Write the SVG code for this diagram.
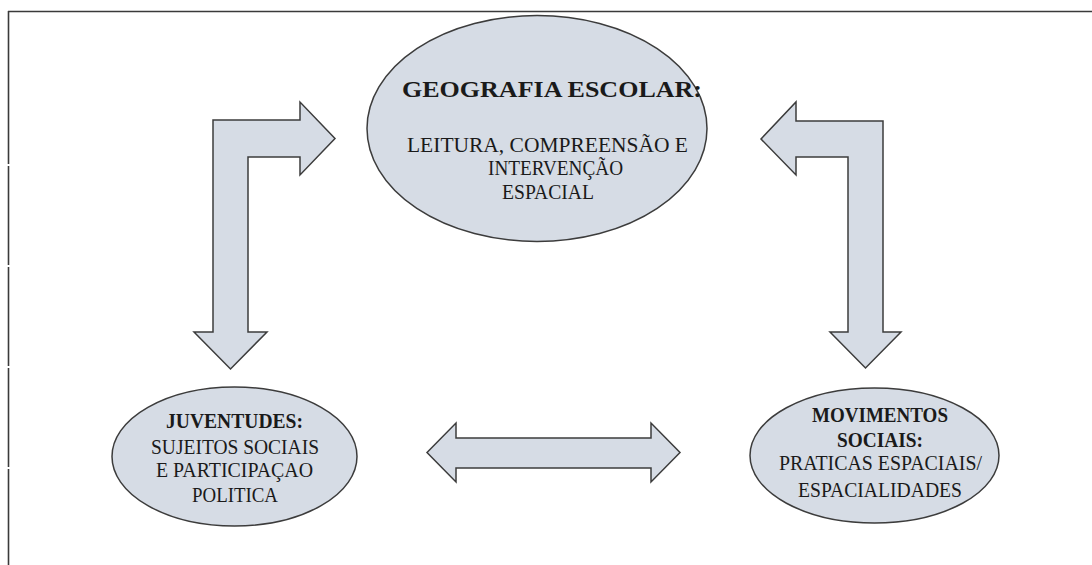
<svg xmlns="http://www.w3.org/2000/svg" width="1092" height="565" viewBox="0 0 1092 565">
<style>
.frame{stroke:#3a3a3a;stroke-width:1.6;fill:none}
.shape{fill:#d6dce5;stroke:#3c3c3c;stroke-width:1.5;stroke-linejoin:miter}
text{font-family:"Liberation Serif","Times New Roman",serif;fill:#1a1a1a;text-anchor:middle}
.b{font-weight:bold}
.big{font-size:24px}
.mid{font-size:20.5px}
.sm{font-size:20.5px}
</style>
<rect width="1092" height="565" fill="#ffffff"/>
<g id="frame">
<line class="frame" x1="8" y1="11.5" x2="1092" y2="11.5"/>
<line class="frame" x1="8.5" y1="11" x2="8.5" y2="164"/>
<line class="frame" x1="8.5" y1="166" x2="8.5" y2="265"/>
<line class="frame" x1="8.5" y1="267" x2="8.5" y2="366"/>
<line class="frame" x1="8.5" y1="368" x2="8.5" y2="467"/>
<line class="frame" x1="8.5" y1="469" x2="8.5" y2="565"/>
</g>
<g id="connectors">
<polygon class="shape" points="213,332 213,120 300,120 300,102 335,138.5 300,175 300,157 248,157 248,332 267,332 230.5,369 194,332"/>
<polygon class="shape" points="883,332 883,121 796,121 796,102 761,139 796,175 796,157 848,157 848,332 830,332 865.5,368 901,332"/>
<polygon class="shape" points="427,452.5 456,423 456,438 651,438 651,423 680,452.5 651,482 651,468 456,468 456,482"/>
</g>
<g id="geografia">
<ellipse class="shape" cx="537" cy="128.5" rx="170" ry="113"/>
<text class="b big" x="552" y="97" textLength="300" lengthAdjust="spacingAndGlyphs">GEOGRAFIA ESCOLAR:</text>
<text class="mid" x="547.5" y="152" textLength="281" lengthAdjust="spacingAndGlyphs">LEITURA, COMPREENSÃO E</text>
<text class="mid" x="555.5" y="175" textLength="135" lengthAdjust="spacingAndGlyphs">INTERVENÇÃO</text>
<text class="mid" x="548" y="199" textLength="92" lengthAdjust="spacingAndGlyphs">ESPACIAL</text>
</g>
<g id="juventudes">
<ellipse class="shape" cx="234.5" cy="456.5" rx="122.5" ry="69.5"/>
<text class="b sm" x="234.5" y="428" textLength="137" lengthAdjust="spacingAndGlyphs">JUVENTUDES:</text>
<text class="sm" x="235" y="454" textLength="168" lengthAdjust="spacingAndGlyphs">SUJEITOS SOCIAIS</text>
<text class="sm" x="234.5" y="477" textLength="157" lengthAdjust="spacingAndGlyphs">E PARTICIPAÇAO</text>
<text class="sm" x="235" y="502" textLength="86" lengthAdjust="spacingAndGlyphs">POLITICA</text>
</g>
<g id="movimentos">
<ellipse class="shape" cx="874.5" cy="455.5" rx="124.5" ry="67.5"/>
<text class="b sm" x="880" y="422" textLength="136" lengthAdjust="spacingAndGlyphs">MOVIMENTOS</text>
<text class="b sm" x="880" y="447" textLength="86" lengthAdjust="spacingAndGlyphs">SOCIAIS:</text>
<text class="sm" x="880.5" y="470" textLength="203" lengthAdjust="spacingAndGlyphs">PRATICAS ESPACIAIS/</text>
<text class="sm" x="880" y="497" textLength="164" lengthAdjust="spacingAndGlyphs">ESPACIALIDADES</text>
</g>
</svg>
